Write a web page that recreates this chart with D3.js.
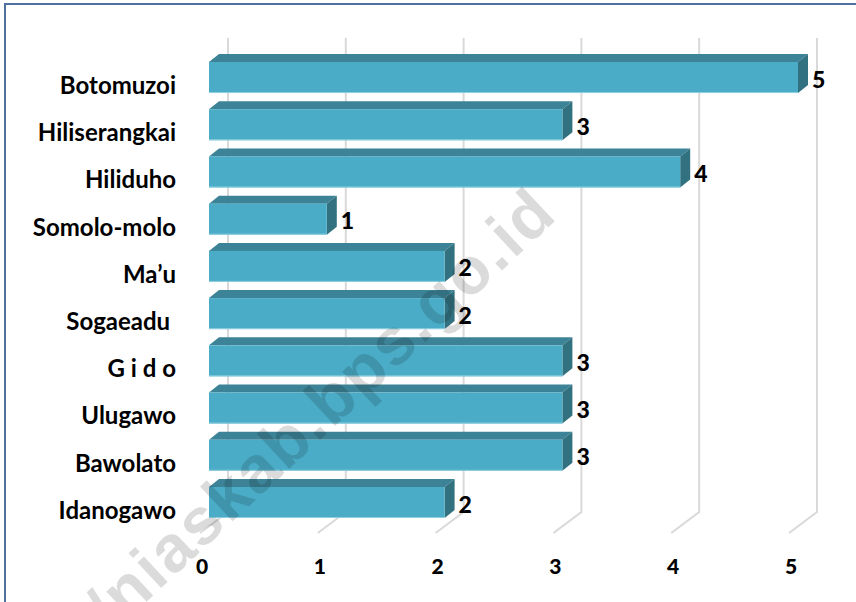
<!DOCTYPE html>
<html>
<head>
<meta charset="utf-8">
<script src="https://cdn.jsdelivr.net/npm/d3@7"></script>
<style>
  html, body { margin: 0; padding: 0; background: #fff; }
  .main-chart { width: 856px; height: 602px; }
  text { font-family: Lato, "Noto Sans", sans-serif; font-weight: bold; fill: #000; white-space: pre; }
</style>
</head>
<body>
<div class="main-chart"></div>
<script>
// data
const categories = [`Botomuzoi`, `Hiliserangkai`, `Hiliduho`, `Somolo-molo`, `Ma’u`,
  `Sogaeadu `, `G i d o`, `Ulugawo`, `Bawolato`, `Idanogawo`];
const values = [5, 3, 4, 1, 2, 2, 3, 3, 3, 2];
const ticks = [0, 1, 2, 3, 4, 5];
const watermark = `/niaskab.bps.go.id`;

const width = 856, height = 602;
// 3d offsets: bar depth and back wall depth
const barDx = 10, barDy = -8, wallDx = 19, floorDx = 28, floorDy = 21;

const x = d3.scaleLinear().domain([0, 5]).range([209, 798]);
const y = d3.scaleBand().domain(categories).range([53.9, 526.1])
  .paddingInner(0.343).paddingOuter(0.1715);

const wallTop = 38, wallBottom = 512;

const svg = d3.select(`.main-chart`).append(`svg`)
  .attr(`width`, width)
  .attr(`height`, height);

// frame
svg.append(`path`)
  .attr(`d`, `M5,${height} V4 H${width}`)
  .attr(`fill`, `none`)
  .attr(`stroke`, `#4f71a0`)
  .attr(`stroke-width`, 2);

// gridlines on back wall + floor
svg.selectAll(`.grid`)
  .data(ticks)
  .enter().append(`path`)
  .attr(`class`, `grid`)
  .attr(`d`, function(d) {
    const bx = x(d) + wallDx;
    return `M${bx},${wallTop} V${wallBottom} L${bx - floorDx},${wallBottom + floorDy}`;
  })
  .attr(`fill`, `none`)
  .attr(`stroke`, `#d9d9d9`)
  .attr(`stroke-width`, 2);

// bars
const bars = svg.selectAll(`.bar`)
  .data(values)
  .enter().append(`g`)
  .attr(`class`, `bar`);

const bw = y.bandwidth();

bars.append(`path`)
  .attr(`d`, function(d, i) {
    const y0 = y(categories[i]), x0 = x(0), x1 = x(d);
    return `M${x0},${y0} L${x0 + barDx},${y0 + barDy} H${x1 + barDx} L${x1},${y0} Z`;
  })
  .attr(`fill`, `#3c8397`);

bars.append(`path`)
  .attr(`d`, function(d, i) {
    const y0 = y(categories[i]), x1 = x(d);
    return `M${x1},${y0} L${x1 + barDx},${y0 + barDy} V${y0 + barDy + bw} L${x1},${y0 + bw} Z`;
  })
  .attr(`fill`, `#32717f`);

bars.append(`rect`)
  .attr(`x`, x(0))
  .attr(`y`, function(d, i) { return y(categories[i]); })
  .attr(`width`, function(d) { return x(d) - x(0); })
  .attr(`height`, bw)
  .attr(`fill`, `#4aacc6`);

bars.append(`line`)
  .attr(`x1`, x(0))
  .attr(`x2`, function(d) { return x(d); })
  .attr(`y1`, function(d, i) { return y(categories[i]) + bw - 0.5; })
  .attr(`y2`, function(d, i) { return y(categories[i]) + bw - 0.5; })
  .attr(`stroke`, `#8fcfe0`)
  .attr(`stroke-width`, 1);

// value labels
bars.append(`text`)
  .attr(`x`, function(d) { return x(d) + barDx + 4; })
  .attr(`y`, function(d, i) { return y(categories[i]) + bw / 2 + 2; })
  .attr(`dy`, `0.35em`)
  .style(`font-size`, `23px`)
  .style(`font-weight`, 900)
  .text(function(d) { return d; });

// category labels
svg.selectAll(`.cat`)
  .data(categories)
  .enter().append(`text`)
  .attr(`class`, `cat`)
  .attr(`x`, 176)
  .attr(`y`, function(d) { return y(d) + bw / 2 + 8; })
  .attr(`dy`, `0.35em`)
  .attr(`text-anchor`, `end`)
  .style(`font-size`, `24px`)
  .text(function(d) { return d; });

// value axis labels
svg.selectAll(`.tick-label`)
  .data(ticks)
  .enter().append(`text`)
  .attr(`class`, `tick-label`)
  .attr(`x`, function(d) { return x(d) + wallDx - floorDx + 2; })
  .attr(`y`, 567)
  .attr(`dy`, `0.35em`)
  .attr(`text-anchor`, `middle`)
  .style(`font-size`, `21px`)
  .style(`font-weight`, 900)
  .text(function(d) { return d; });

// watermark
svg.append(`text`)
  .attr(`transform`, `translate(112,634) rotate(-43)`)
  .style(`font-family`, `"Liberation Sans", Arial, sans-serif`)
  .style(`font-weight`, 700)
  .style(`font-size`, `66px`)
  .style(`letter-spacing`, `2px`)
  .style(`fill`, `#000`)
  .style(`fill-opacity`, 0.14)
  .text(watermark);
</script>
</body>
</html>
